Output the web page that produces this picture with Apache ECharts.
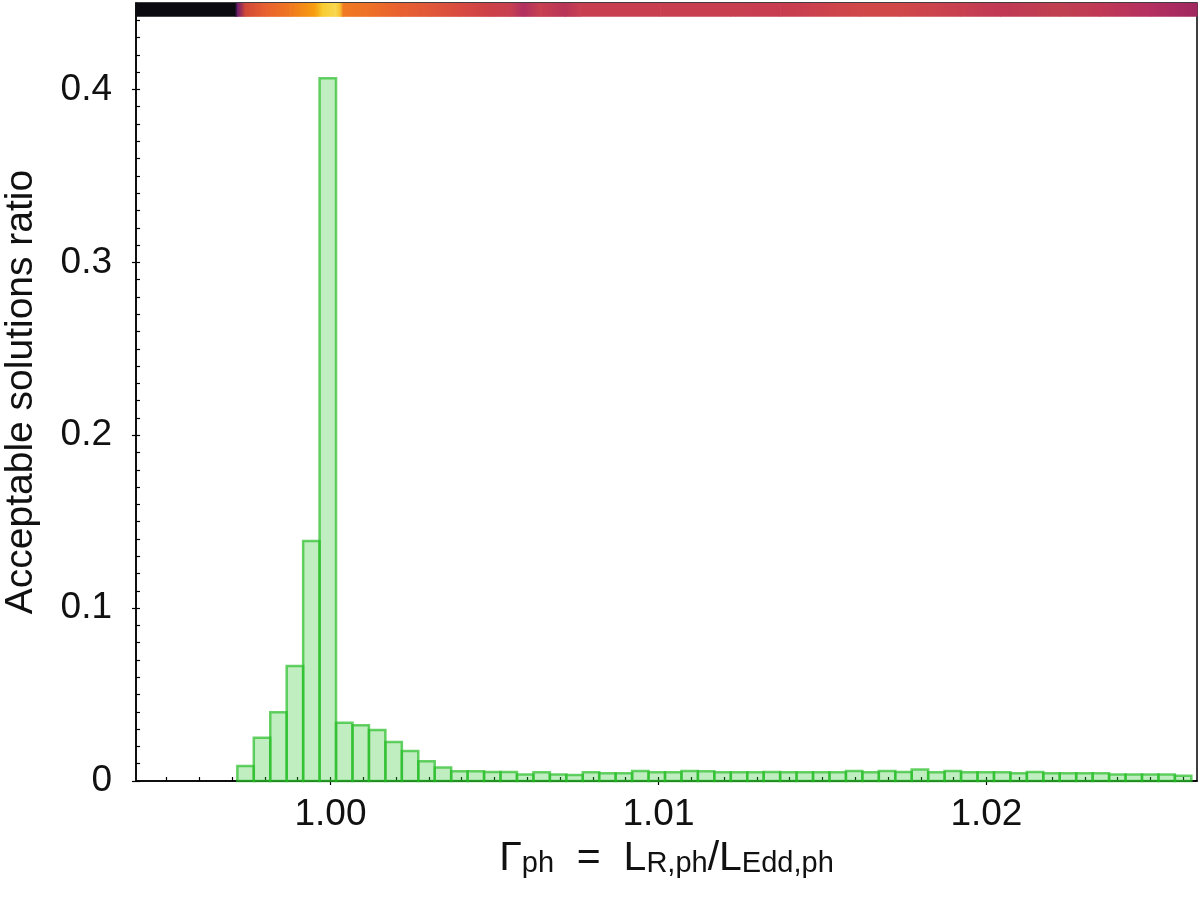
<!DOCTYPE html>
<html>
<head>
<meta charset="utf-8">
<script src="https://cdn.jsdelivr.net/npm/echarts@6/dist/echarts.min.js"></script>
<style>
  html, body { margin: 0; padding: 0; background: #fff; }
  #chart { width: 1200px; height: 900px; }
</style>
</head>
<body>
<div id="chart"></div>
<script>
(function () {
  // histogram: left edge of first bin, bin width, and ratio per bin
  var binStart = 0.99716;
  var binWidth = 0.0005015;
  var ratios = [
    0.0087, 0.0250, 0.0397, 0.0665, 0.1388, 0.4065, 0.0337, 0.0322, 0.0295, 0.0225,
    0.0173, 0.0114, 0.0078, 0.0056, 0.0056, 0.0052, 0.0052, 0.0037, 0.0050, 0.0037,
    0.0034, 0.0050, 0.0045, 0.0045, 0.0058, 0.0050, 0.0050, 0.0058, 0.0056, 0.0050,
    0.0050, 0.0050, 0.0052, 0.0050, 0.0050, 0.0050, 0.0050, 0.0058, 0.0050, 0.0058,
    0.0052, 0.0066, 0.0050, 0.0058, 0.0050, 0.0050, 0.0050, 0.0045, 0.0052, 0.0045,
    0.0045, 0.0045, 0.0045, 0.0038, 0.0038, 0.0038, 0.0038, 0.0030
  ];

  // colour strip along the top of the plot
  var stripX = [
    0.99407, 0.99709, 0.99715, 0.99739, 0.99800, 0.99877, 0.99953, 0.99974, 1.00014,
    1.00029, 1.00038, 1.00120, 1.00212, 1.00303, 1.00395, 1.00486, 1.00547, 1.00587,
    1.00639, 1.00715, 1.00761, 1.01005, 1.01218, 1.01371, 1.01614, 1.01736, 1.01919,
    1.02041, 1.02224, 1.02346, 1.02498, 1.02642
  ];
  var stripColors = [
    '#0a0a10', '#0a0a10', '#6a1a70', '#d04838', '#e86030', '#f07820', '#f8a010', '#f8cc30', '#f8d850',
    '#f8c030', '#f07a22', '#ee7028', '#e86030', '#e05838', '#d84a40', '#cc4048', '#c84050', '#b03060',
    '#c84050', '#b83558', '#c84050', '#c84050', '#c84050', '#c83c50', '#d04848', '#d04848', '#c84050',
    '#c03855', '#c04050', '#c03855', '#b43060', '#a02860'
  ];

  var xMajor = [1.00, 1.01, 1.02];
  var yMajor = [0, 0.1, 0.2, 0.3, 0.4];

  var xMinor = [];
  for (var i = 995; i <= 1026; i++) xMinor.push(i / 1000);
  var yMinor = [];
  for (var j = 0; j <= 44; j++) yMinor.push(j / 100);

  var bars = ratios.map(function (v, k) {
    return [binStart + k * binWidth, binStart + (k + 1) * binWidth, v];
  });
  var strip = [];
  for (var s = 0; s < stripX.length - 1; s++) strip.push([stripX[s], stripX[s + 1], s]);

  var font = 'Liberation Sans';
  var chart = echarts.init(document.getElementById('chart'));

  chart.setOption({
    animation: false,
    grid: {
      left: 136, right: 3, top: 3, bottom: 119,
      outerBoundsMode: 'none', containLabel: false,
      show: true, borderColor: '#000', borderWidth: 1.5, backgroundColor: 'transparent'
    },
    xAxis: [{
      type: 'value', min: 0.99407, max: 1.02642, position: 'bottom',
      axisLine: { show: true, lineStyle: { color: '#000', width: 1.5 } },
      axisTick: { show: true, inside: true, length: 4, customValues: xMinor, lineStyle: { color: '#000', width: 1.2 } },
      axisLabel: {
        customValues: xMajor, margin: 15, color: '#111', fontFamily: font, fontSize: 37,
        formatter: function (v) { return v.toFixed(2); }
      },
      splitLine: { show: false },
      name: '{g|Γ}{s|ph}{g|  =  L}{s|R,ph}{g|/L}{s|Edd,ph}',
      nameLocation: 'middle', nameGap: 40,
      nameTextStyle: {
        rich: {
          g: { fontFamily: font, fontSize: 41, lineHeight: 41, color: '#111', verticalAlign: 'top', padding: [0, 0, 6, 0] },
          s: { fontFamily: font, fontSize: 29, lineHeight: 29, color: '#111', verticalAlign: 'bottom' }
        }
      }
    }, {
      type: 'value', min: 0.99407, max: 1.02642, position: 'bottom',
      axisLine: { show: false },
      axisTick: { show: true, inside: false, length: 4, customValues: xMajor, lineStyle: { color: '#000', width: 1.2 } },
      axisLabel: { show: false },
      splitLine: { show: false }
    }],
    yAxis: [{
      type: 'value', min: 0, max: 0.45, position: 'left',
      axisLine: { show: true, lineStyle: { color: '#000', width: 1.5 } },
      axisTick: { show: true, inside: true, length: 4, customValues: yMinor, lineStyle: { color: '#000', width: 1.2 } },
      axisLabel: {
        customValues: yMajor, margin: 24, color: '#111', fontFamily: font, fontSize: 37,
        formatter: function (v) { return v === 0 ? '0' : v.toFixed(1); }
      },
      splitLine: { show: false },
      name: 'Acceptable solutions ratio',
      nameLocation: 'middle', nameGap: 95,
      nameTextStyle: { fontFamily: font, fontSize: 39, color: '#111' }
    }, {
      type: 'value', min: 0, max: 0.45, position: 'left',
      axisLine: { show: false },
      axisTick: { show: true, inside: false, length: 4, customValues: yMajor, lineStyle: { color: '#000', width: 1.2 } },
      axisLabel: { show: false },
      splitLine: { show: false }
    }],
    series: [{
      type: 'custom',
      xAxisIndex: 0, yAxisIndex: 0,
      encode: { x: [0, 1], y: 2 },
      data: bars,
      renderItem: function (params, api) {
        var p0 = api.coord([api.value(0), api.value(2)]);
        var p1 = api.coord([api.value(1), 0]);
        return {
          type: 'rect',
          shape: { x: p0[0], y: p0[1], width: p1[0] - p0[0], height: p1[1] - p0[1] },
          style: { fill: 'rgba(50,200,50,0.3)', stroke: 'rgba(40,190,40,0.7)', lineWidth: 2.5 }
        };
      }
    }, {
      type: 'custom',
      xAxisIndex: 0, yAxisIndex: 0,
      encode: { x: [0, 1] },
      data: strip,
      renderItem: function (params, api) {
        var k = api.value(2);
        var p0 = api.coord([api.value(0), 0.45]);
        var p1 = api.coord([api.value(1), 0.442]);
        return {
          type: 'rect',
          shape: { x: p0[0], y: p0[1], width: p1[0] - p0[0] + 0.6, height: p1[1] - p0[1] },
          style: {
            fill: new echarts.graphic.LinearGradient(0, 0, 1, 0, [
              { offset: 0, color: stripColors[k] },
              { offset: 1, color: stripColors[k + 1] }
            ])
          }
        };
      }
    }]
  });
})();
</script>
</body>
</html>
